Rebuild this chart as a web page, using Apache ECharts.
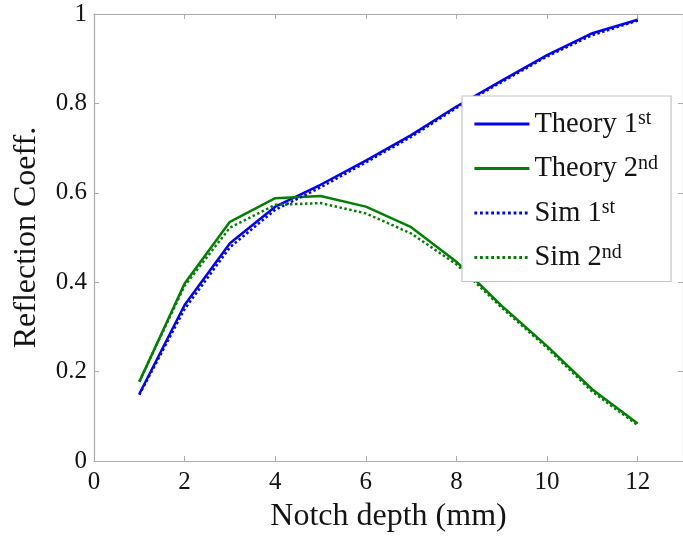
<!DOCTYPE html>
<html>
<head>
<meta charset="utf-8">
<script src="https://cdn.jsdelivr.net/npm/echarts@6/dist/echarts.min.js"></script>
<style>
html,body{margin:0;padding:0;background:#fff;}
#chart{width:683px;height:542px;}
</style>
</head>
<body>
<div id="chart"></div>
<script>
var notchDepth = [1, 2, 3, 4, 5, 6, 7, 8, 9, 10, 11, 12];
var theory1st = [0.150, 0.349, 0.487, 0.569, 0.618, 0.672, 0.729, 0.793, 0.851, 0.908, 0.957, 0.987];
var theory2nd = [0.177, 0.397, 0.535, 0.588, 0.593, 0.569, 0.523, 0.446, 0.347, 0.257, 0.160, 0.084];
var sim1st = [0.148, 0.340, 0.478, 0.562, 0.612, 0.668, 0.725, 0.790, 0.848, 0.905, 0.953, 0.985];
var sim2nd = [0.178, 0.392, 0.522, 0.573, 0.577, 0.554, 0.509, 0.440, 0.343, 0.253, 0.155, 0.080];
var seriesNames = ['Theory 1st', 'Theory 2nd', 'Sim 1st', 'Sim 2nd'];
var xTicks = [0, 2, 4, 6, 8, 10, 12];
var yTicks = [0, 0.2, 0.4, 0.6, 0.8, 1];

function pairs(vals) {
  return notchDepth.map(function (x, i) { return [x, vals[i]]; });
}

var FONT = 'Liberation Serif';
var TXT = '#141414';
var AX = '#ababab';

var chart = echarts.init(document.getElementById('chart'), null, {renderer: 'canvas'});

function mkX(pos, showLabel, name) {
  return {
    type: 'value', position: pos, min: 0, max: 13, interval: 1,
    name: name || '', nameLocation: 'middle', nameGap: 40,
    nameTextStyle: {fontFamily: FONT, fontSize: 32, color: TXT},
    axisLine: {show: true, onZero: false, lineStyle: {color: AX, width: 1.2}},
    axisTick: {show: true, inside: true, length: 5, lineStyle: {color: AX},
      customValues: xTicks},
    axisLabel: {show: showLabel, fontFamily: FONT, fontSize: 25, color: TXT, margin: 9,
      customValues: xTicks},
    splitLine: {show: false}
  };
}
function mkY(pos, showLabel, name) {
  return {
    type: 'value', position: pos, min: 0, max: 1, interval: 0.2,
    name: name || '', nameLocation: 'middle', nameGap: 51,
    nameTextStyle: {fontFamily: FONT, fontSize: 32, color: TXT},
    axisLine: {show: true, onZero: false, lineStyle: {color: AX, width: 1.2}},
    axisTick: {show: true, inside: true, length: 5, lineStyle: {color: AX},
      customValues: yTicks},
    axisLabel: {show: showLabel, fontFamily: FONT, fontSize: 25, color: TXT, margin: 7,
      customValues: yTicks,
      formatter: function (v) { return String(Math.round(v * 10) / 10); }},
    splitLine: {show: false}
  };
}

var colors = ['#0000ff', '#008000', '#0000ff', '#008000'];
var types = ['solid', 'solid', 'dotted', 'dotted'];
var dataSets = [theory1st, theory2nd, sim1st, sim2nd];

var option = {
  animation: false,
  backgroundColor: '#fff',
  grid: {left: 94, top: 14, width: 594, height: 447, containLabel: false},
  xAxis: [mkX('bottom', true, 'Notch depth (mm)'), mkX('top', false)],
  yAxis: [mkY('left', true, 'Reflection Coeff.'), mkY('right', false)],
  legend: {
    orient: 'vertical', left: 462, top: 96,
    padding: [13, 13, 9, 11],
    itemWidth: 55, itemHeight: 14, itemGap: 14.5,
    backgroundColor: '#fff',
    borderColor: '#c4c4c4', borderWidth: 1.2,
    itemStyle: {opacity: 0},
    lineStyle: {width: 2.8},
    data: seriesNames,
    formatter: function (name) {
      var m = name.match(/^(.*\d)(st|nd)$/);
      return '{m|' + m[1] + '}{s|' + m[2] + '}';
    },
    textStyle: {
      fontFamily: FONT, color: TXT, fontSize: 28.5, lineHeight: 30,
      rich: {
        m: {fontFamily: FONT, color: TXT, fontSize: 28.5, lineHeight: 30, verticalAlign: 'bottom'},
        s: {fontFamily: FONT, color: TXT, fontSize: 20, lineHeight: 18, verticalAlign: 'top'}
      }
    }
  },
  series: dataSets.map(function (d, i) {
    return {
      name: seriesNames[i], type: 'line', data: pairs(d),
      symbol: 'none', showSymbol: false,
      lineStyle: {color: colors[i], width: 2.5, type: types[i]},
      itemStyle: {color: colors[i]},
      z: i < 2 ? 2 : 3
    };
  })
};
chart.setOption(option);
</script>
</body>
</html>
